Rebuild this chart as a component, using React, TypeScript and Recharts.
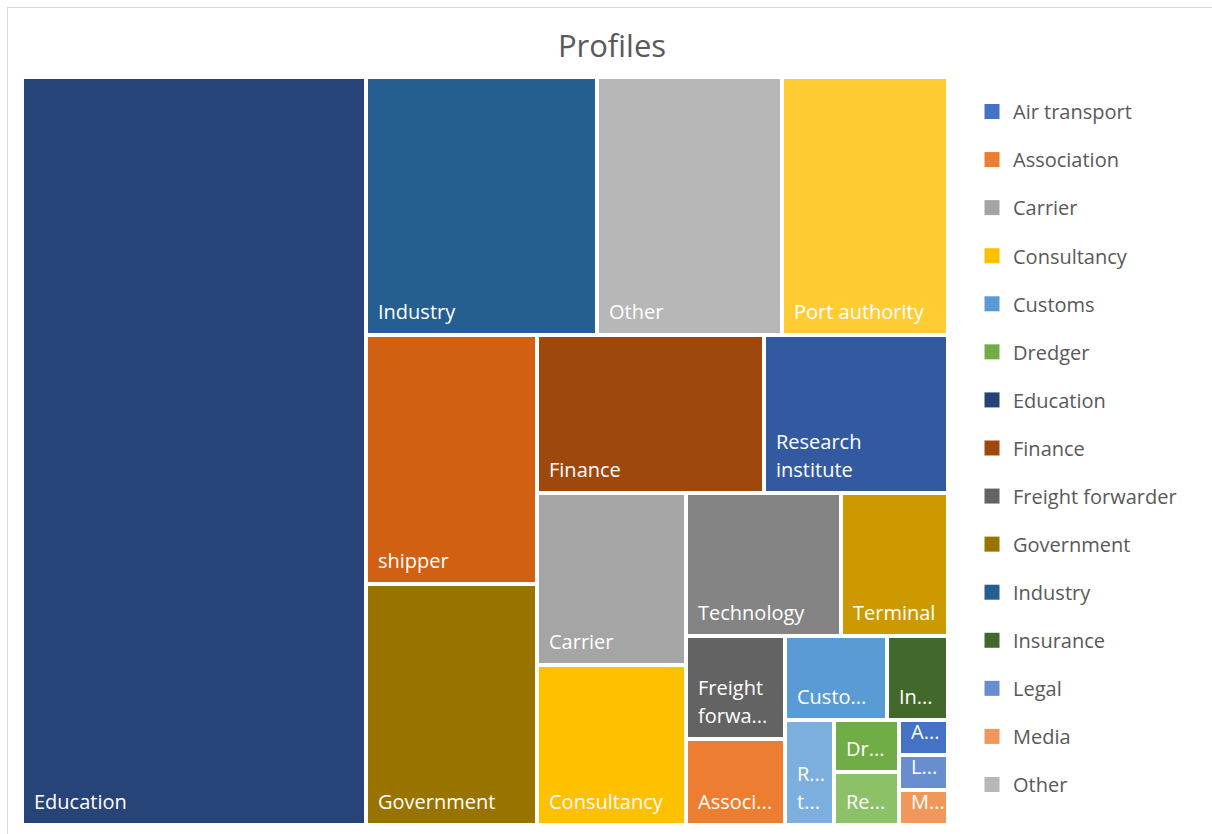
import React from 'react';
import { Treemap } from 'recharts';

// profiles, in the order the treemap lays them out (largest first)
const categories = [
  'Education', 'Industry', 'Other', 'Port authority', 'shipper', 'Government',
  'Finance', 'Research institute', 'Carrier', 'Consultancy', 'Technology', 'Terminal',
  'Freight forwarder', 'Association', 'Customs', 'Insurance', 'Rail transport',
  'Dredger', 'Regulator', 'Air transport', 'Legal', 'Media',
];
const counts = [151, 35, 28, 25, 25, 24, 21, 17, 15, 14, 13, 9, 6, 5, 5, 3, 3, 2, 2, 1, 1, 1];

// Office palette, applied to the categories in alphabetical order
const PALETTE = [
  '#4472C4', '#ED7D31', '#A5A5A5', '#FFC000', '#5B9BD5', '#70AD47',
  '#264478', '#9E480E', '#636363', '#997300', '#255E91', '#43682B',
  '#698ED0', '#F1975A', '#B7B7B7', '#FFCD33', '#7CAFDD', '#8CC168',
  '#335AA1', '#D26012', '#848484', '#CC9A00',
];

const legendOrder = [...categories].sort((a, b) => a.localeCompare(b, 'en', { sensitivity: 'base' }));
const colorOf = (name: string) => PALETTE[legendOrder.indexOf(name) % PALETTE.length];
const data = categories.map((name, i) => ({ name, value: counts[i] }));

const FONT = '"Open Sans", "Noto Sans", sans-serif';
const LABEL_SIZE = 20;
const LINE_H = 28.4;
const GAP = 4;

const TM_LEFT = 22;
const TM_TOP = 77;
const TM_W = 926;
const TM_H = 748;

const LEGEND_Y0 = 119.3;
const LEGEND_STEP = 48.07;

let ctx: CanvasRenderingContext2D | null = null;
const textWidth = (s: string) => {
  if (!ctx) ctx = document.createElement('canvas').getContext('2d');
  if (ctx) {
    ctx.font = `${LABEL_SIZE}px ${FONT}`;
    return ctx.measureText(s).width;
  }
  return s.length * LABEL_SIZE * 0.55;
};

const clip = (word: string, max: number) => {
  if (textWidth(word) <= max) return word;
  let n = word.length - 1;
  while (n > 1 && textWidth(word.slice(0, n) + '...') > max) n--;
  return word.slice(0, n) + '...';
};

const fitLabel = (name: string, max: number, maxLines: number) => {
  const lines: string[] = [];
  let cur = '';
  name.split(' ').forEach((w) => {
    const next = cur ? cur + ' ' + w : w;
    if (!cur || textWidth(next) <= max) cur = next;
    else {
      lines.push(cur);
      cur = w;
    }
  });
  lines.push(cur);
  const kept = lines.slice(0, maxLines);
  if (lines.length > maxLines) kept[maxLines - 1] = clip(kept[maxLines - 1] + '...', max);
  return kept.map((l) => clip(l, max));
};

const CellShape = (props: any) => {
  const { x, y, width, height, depth, name } = props;
  if (depth !== 1) return null;
  const rx = x + GAP / 2;
  const ry = y + GAP / 2;
  const rw = width - GAP;
  const rh = height - GAP;
  const maxLines = Math.max(1, Math.floor((rh - 8) / LINE_H));
  const lines = fitLabel(name, rw - 19.5, maxLines);
  return (
    <g>
      <rect x={rx} y={ry} width={rw} height={rh} fill={colorOf(name)} />
      {lines.map((l, i) => (
        <text
          key={i}
          x={rx + 10}
          y={ry + rh - 14 - (lines.length - 1 - i) * LINE_H}
          fill="#FFFFFF"
          fontSize={LABEL_SIZE}
          fontFamily={FONT}
        >
          {l}
        </text>
      ))}
    </g>
  );
};

const App: React.FC = () => {
  // the legend is clipped by the chart frame, as in the original
  const legendItems = legendOrder.filter((_, i) => LEGEND_Y0 + i * LEGEND_STEP < 834);

  return (
    <div style={{ position: 'fixed', left: 0, top: 0, width: 1212, height: 834, overflow: 'hidden', background: '#fff' }}>
      <div
        style={{
          position: 'absolute', left: 7, top: 7, width: 1230, height: 860,
          border: '1px solid #D9D9D9', boxSizing: 'border-box',
        }}
      />
      <svg width={1212} height={834} style={{ position: 'absolute', left: 0, top: 0 }}>
        <text x={612} y={57} textAnchor="middle" fill="#595959" fontSize={31} fontFamily={FONT}>
          Profiles
        </text>
        {legendItems.map((name, i) => (
          <g key={name}>
            <rect x={984.5} y={LEGEND_Y0 + i * LEGEND_STEP - 15.3} width={15} height={15} fill={colorOf(name)} />
            <text x={1013} y={LEGEND_Y0 + i * LEGEND_STEP} fill="#595959" fontSize={20} fontFamily={FONT}>
              {name}
            </text>
          </g>
        ))}
      </svg>
      <div style={{ position: 'absolute', left: TM_LEFT, top: TM_TOP }}>
        <Treemap
          width={TM_W}
          height={TM_H}
          data={data}
          dataKey="value"
          nameKey="name"
          aspectRatio={0.9458}
          isAnimationActive={false}
          content={<CellShape />}
        />
      </div>
    </div>
  );
};

export default App;
